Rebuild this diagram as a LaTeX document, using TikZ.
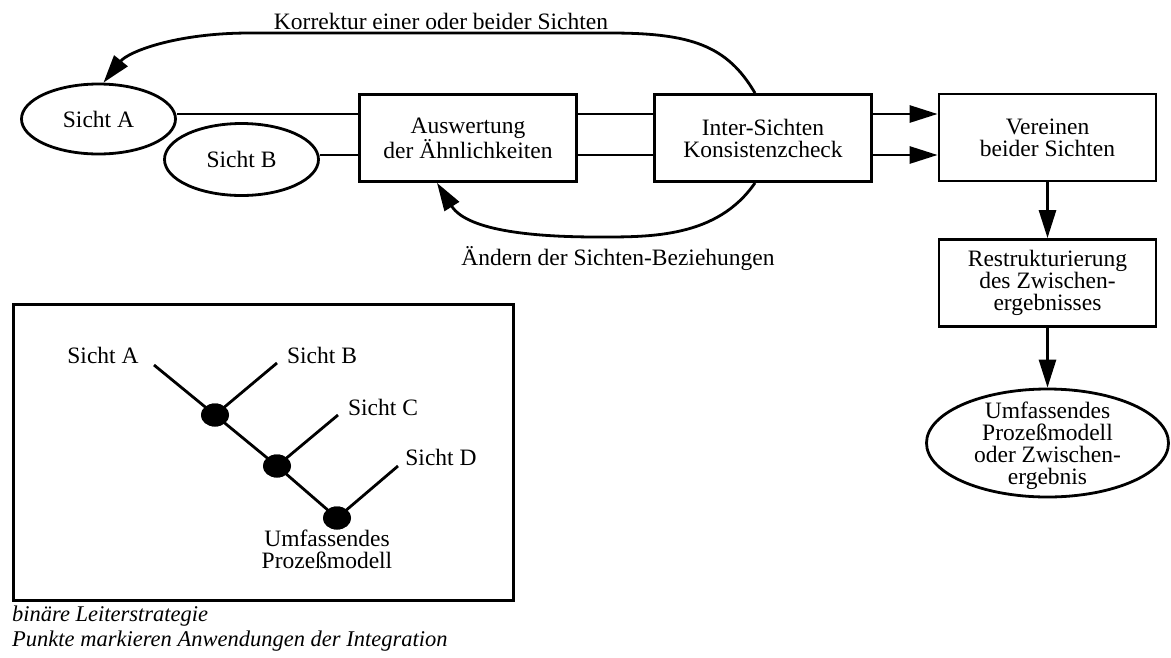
\documentclass[tikz,border=0pt]{standalone}
\usepackage{fontspec}
\setmainfont{Liberation Serif}
\usetikzlibrary{shapes.geometric,arrows.meta}
\newcommand\mainfs{\fontsize{23.5pt}{22pt}\selectfont}
\newcommand\capfs{\fontsize{22.5pt}{20pt}\selectfont\itshape}
\tikzset{
  lw/.style={line width=2.8pt},
  boxnode/.style={draw, lw, rectangle, minimum width=217pt, minimum height=87pt, inner sep=0pt, align=center, font=\mainfs},
  ellnode/.style={draw, lw, ellipse, inner sep=0pt, font=\mainfs},
  dotnode/.style={fill=black, draw=none, ellipse, minimum width=28pt, minimum height=23pt, inner sep=0pt},
  txt/.style={font=\mainfs, align=center, inner sep=0pt},
  captxt/.style={font=\capfs, inner sep=0pt, anchor=base west},
  conn/.style={lw},
  arr/.style={lw, -{Triangle[length=28pt,width=17pt]}},
}
\begin{document}
\begin{tikzpicture}[x=1pt, y=-1pt]
\useasboundingbox (0,0) rectangle (1171,657);

% upper flow
\node[ellnode, minimum width=154pt, minimum height=70pt] (sa) at (98.5,119) {Sicht A};
\node[ellnode, minimum width=154pt, minimum height=72pt] (sb) at (241.5,159.5) {Sicht B};
\node[boxnode] (aus) at (468,138) {Auswertung\\der Ähnlichkeiten};
\node[boxnode] (inter) at (763,138) {Inter-Sichten\\Konsistenzcheck};
\node[boxnode] (ver) at (1047.5,137.5) {Vereinen\\beider Sichten};
\node[boxnode] (res) at (1047.5,283) {Restrukturierung\\des Zwischen-\\ergebnisses};
\node[ellnode, minimum width=242pt, minimum height=108pt] (fin) at (1047.5,443) {};
\node[txt] (finT) at (1047.5,446) {Umfassendes\\Prozeßmodell\\oder Zwischen-\\ergebnis};

\node[txt] (lkorr) at (441,21) {Korrektur einer oder beider Sichten};
\node[txt] (laend) at (618,259) {Ändern der Sichten-Beziehungen};

\coordinate (yA) at (0,114);
\coordinate (yB) at (0,155);

\draw[conn] (sa.east |- yA) -- (aus.west |- yA);
\draw[conn] (sb.east |- yB) -- (aus.west |- yB);
\draw[conn] (aus.east |- yA) -- (inter.west |- yA);
\draw[conn] (aus.east |- yB) -- (inter.west |- yB);
\draw[arr] (inter.east |- yA) -- (ver.west |- yA);
\draw[arr] (inter.east |- yB) -- (ver.west |- yB);
\draw[arr] (ver.south) -- (res.north);
\draw[arr] (res.south) -- (fin.north);

\draw[arr] ([xshift=-8pt]inter.north) .. controls (727,45) and (690,33) .. (610,33)
  -- (250,33) .. controls (175,33) and (128,52) .. ([xshift=5pt]sa.north);
\draw[arr] ([xshift=-8pt]inter.south) .. controls (717,238) and (650,237) .. (598,237)
  .. controls (540,237) and (468,232) .. ([xshift=-31pt]aus.south);

% lower frame: binary ladder strategy
\node[draw, lw, rectangle, minimum width=500pt, minimum height=296pt, inner sep=0pt] (frame) at (263.5,452.5) {};

\node[dotnode] (d1) at (215,415) {};
\node[dotnode] (d2) at (277,466) {};
\node[dotnode] (d3) at (337,518) {};

\node[txt] (tA) at (103,355) {Sicht A};
\node[txt] (tB) at (322,355) {Sicht B};
\node[txt] (tC) at (383,407) {Sicht C};
\node[txt] (tD) at (441,457) {Sicht D};
\node[txt] (tU) at (327,549) {Umfassendes\\Prozeßmodell};

\coordinate (eA) at (154,365);
\coordinate (eB) at (277,363);
\coordinate (eC) at (338,415);
\coordinate (eD) at (398,466);

\draw[conn] (eA) -- (d1.center);
\draw[conn] (eB) -- (d1.center);
\draw[conn] (d1.center) -- (d2.center);
\draw[conn] (eC) -- (d2.center);
\draw[conn] (d2.center) -- (d3.center);
\draw[conn] (eD) -- (d3.center);
\node[dotnode] at (d1) {};
\node[dotnode] at (d2) {};
\node[dotnode] at (d3) {};

\node[captxt] (cap1) at (12,621) {binäre Leiterstrategie};
\node[captxt] (cap2) at (12,646) {Punkte markieren Anwendungen der Integration};
\end{tikzpicture}
\end{document}
